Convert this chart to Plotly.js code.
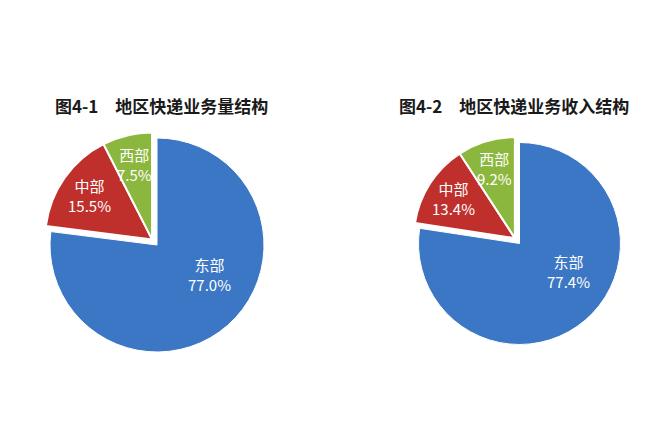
<!DOCTYPE html>
<html>
<head>
<meta charset="utf-8">
<script src="https://cdn.plot.ly/plotly-3.0.1.min.js"></script>
<style>html,body{margin:0;padding:0;background:#fff;}#chart{width:650px;height:430px;}</style>
</head>
<body>
<div id="chart"></div>
<script>
// ---- data ----
var regions = ['东部', '中部', '西部'];
var volumeShare = [77.0, 15.5, 7.5];
var revenueShare = [77.4, 13.4, 9.2];
var volumeTitle = '图4-1\u3000地区快递业务量结构';
var revenueTitle = '图4-2\u3000地区快递业务收入结构';

// ---- style ----
var W = 650, H = 430;
var colors = ['#3b77c5', '#bf302d', '#8cb73e'];
var clear = 'rgba(0,0,0,0)';
var explodeFrac = 0.07;           // exploded group (中部+西部) offset, fraction of radius
var labelRadius = [0.56, 0.72, 0.72];
var labelAngleFrac = [0.43, 0.5, 0.5];
var font = '"Noto Sans CJK SC", "Noto Sans", sans-serif';
var pies = [
  {values: volumeShare, title: volumeTitle, cx: 157, cy: 245, r: 107, titleX: 161.5, titleY: 105},
  {values: revenueShare, title: revenueTitle, cx: 519.5, cy: 243.5, r: 101, titleX: 514, titleY: 105}
];

function domainFor(cx, cy, r) {
  return {x: [(cx - r) / W, (cx + r) / W], y: [1 - (cy + r) / H, 1 - (cy - r) / H]};
}

var traces = [], annotations = [];
pies.forEach(function (p) {
  var total = p.values.reduce(function (a, b) { return a + b; }, 0);
  var groupStart = p.values[0] / total * 2 * Math.PI;
  var groupMid = (groupStart + 2 * Math.PI) / 2;
  var dx = explodeFrac * p.r * Math.sin(groupMid);
  var dy = -explodeFrac * p.r * Math.cos(groupMid);
  var common = {type: 'pie', labels: regions, values: p.values, sort: false,
    direction: 'clockwise', rotation: 0, textinfo: 'none', hoverinfo: 'skip', showlegend: false};
  // main (东部) slice
  traces.push(Object.assign({}, common, {
    domain: domainFor(p.cx, p.cy, p.r),
    marker: {colors: [colors[0], clear, clear], line: {color: '#ffffff', width: [1, 0, 0]}}
  }));
  // exploded slices (中部, 西部)
  traces.push(Object.assign({}, common, {
    domain: domainFor(p.cx + dx, p.cy + dy, p.r),
    marker: {colors: [clear, colors[1], colors[2]], line: {color: '#ffffff', width: [0, 2, 2]}}
  }));
  // labels
  var start = 0;
  p.values.forEach(function (v, i) {
    var span = v / total * 2 * Math.PI;
    var ang = start + span * labelAngleFrac[i];
    var ox = i === 0 ? 0 : dx, oy = i === 0 ? 0 : dy;
    var px = p.cx + ox + labelRadius[i] * p.r * Math.sin(ang);
    var py = p.cy + oy - labelRadius[i] * p.r * Math.cos(ang);
    annotations.push({
      xref: 'paper', yref: 'paper', x: px / W, y: 1 - py / H,
      xanchor: 'center', yanchor: 'middle', showarrow: false,
      text: regions[i] + '<br>' + v.toFixed(1) + '%',
      font: {family: font, size: 15, color: '#ffffff'}
    });
    start += span;
  });
  annotations.push({
    xref: 'paper', yref: 'paper', x: p.titleX / W, y: 1 - p.titleY / H,
    xanchor: 'center', yanchor: 'middle', showarrow: false,
    text: '<b>' + p.title + '</b>', font: {family: font, size: 17, color: '#1a1a1a'}
  });
});

var layout = {
  width: W, height: H, margin: {l: 0, r: 0, t: 0, b: 0},
  paper_bgcolor: '#ffffff', plot_bgcolor: '#ffffff',
  showlegend: false, annotations: annotations
};

Plotly.newPlot('chart', traces, layout, {displayModeBar: false, staticPlot: true});
</script>
</body>
</html>
